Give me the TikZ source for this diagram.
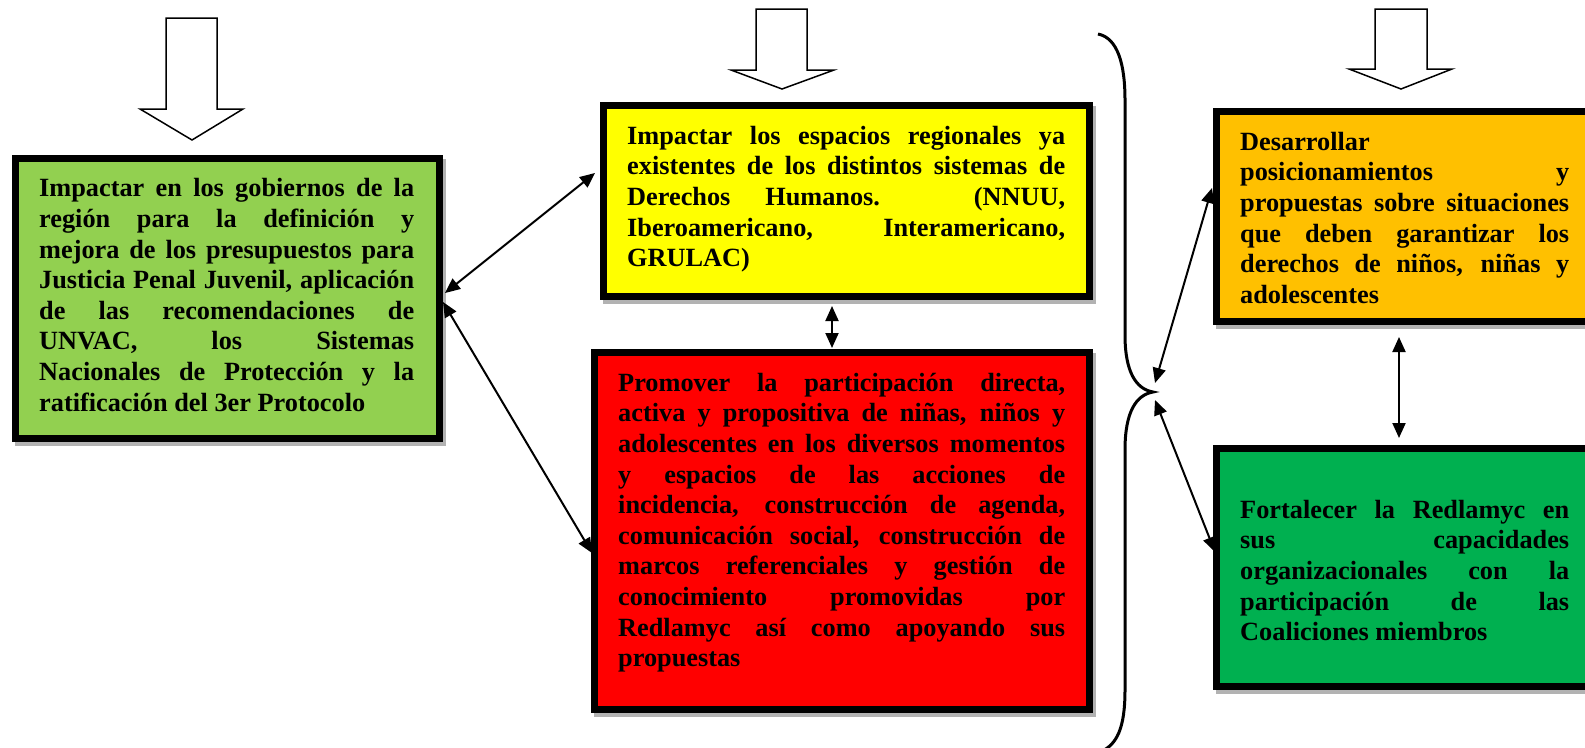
\documentclass[tikz,border=0pt]{standalone}
\usepackage{fontspec}
\setmainfont{Liberation Serif}
\usetikzlibrary{arrows.meta,backgrounds}
\definecolor{cgreenL}{HTML}{92D050}
\definecolor{cyellow}{HTML}{FFFF00}
\definecolor{cred}{HTML}{FF0000}
\definecolor{corange}{HTML}{FFC000}
\definecolor{cgreenR}{HTML}{00B050}
\newdimen\tw
\newcommand\jl[1]{\hbox to\tw{#1}}
\newcommand\lastl[1]{\hbox{#1}}
\begin{document}
\begin{tikzpicture}[x=1pt,y=-1pt,
  box/.style={draw=black,line width=7pt,rectangle,inner sep=0pt},
  txt/.style={anchor=north west,inner sep=0pt,font=\fontsize{26.3}{30.6}\selectfont\bfseries},
  dbl/.style={line width=2pt,{Triangle[length=15pt,width=13pt]}-{Triangle[length=15pt,width=13pt]}},
  hollow/.style={draw=black,fill=white,line width=1.5pt,line join=miter},
  bracestyle/.style={line width=3pt}
]
\useasboundingbox (0,0) rectangle (1585,747);

% hollow down arrows
\draw[hollow] (166,18) -- (217,18) -- (217,109) -- (243,109) -- (192,140) -- (140,109) -- (166,109) -- cycle;
\draw[hollow] (756,9) -- (807,9) -- (807,70) -- (834,70) -- (782,89) -- (731,70) -- (756,70) -- cycle;
\draw[hollow] (1375,9) -- (1427,9) -- (1427,69) -- (1452,69) -- (1401,89) -- (1349,69) -- (1375,69) -- cycle;

% boxes
\node[box,fill=cgreenL,minimum width=424,minimum height=280] (gL) at (227.5,298.5) {};
\node[box,fill=cyellow,minimum width=486,minimum height=191] (yL) at (846.5,201) {};
\node[box,fill=cred,minimum width=495,minimum height=357] (rL) at (842,531) {};
\node[box,fill=corange,minimum width=378,minimum height=210] (oL) at (1405.5,216.5) {};
\node[box,fill=cgreenR,minimum width=378,minimum height=238] (gR) at (1405.5,567.5) {};

\begin{scope}[on background layer]
  \foreach \n in {gL,yL,rL,oL,gR}
    \fill[gray!60] ([shift={(3,4)}]\n.north west) rectangle ([shift={(3,4)}]\n.south east);
\end{scope}

% texts
\node[txt] (tgL) at (39,175.3) {\tw=375pt\vtop{\normalbaselines
  \jl{\strut Impactar en los gobiernos de la}\jl{región para la definición y}\jl{mejora de los presupuestos para}\jl{Justicia Penal Juvenil, aplicación}\jl{de las recomendaciones de}\jl{UNVAC, los Sistemas}\jl{Nacionales de Protección y la}\lastl{ratificación del 3er Protocolo}}};
\node[txt] (tyL) at (627,122.6) {\tw=438pt\vtop{\normalbaselines
  \jl{\strut Impactar los espacios regionales ya}\jl{existentes de los distintos sistemas de}\jl{Derechos Humanos. (NNUU,}\jl{Iberoamericano, Interamericano,}\lastl{GRULAC)}}};
\node[txt] (trL) at (618,369.6) {\tw=447pt\vtop{\normalbaselines
  \jl{\strut Promover la participación directa,}\jl{activa y propositiva de niñas, niños y}\jl{adolescentes en los diversos momentos}\jl{y espacios de las acciones de}\jl{incidencia, construcción de agenda,}\jl{comunicación social, construcción de}\jl{marcos referenciales y gestión de}\jl{conocimiento promovidas por}\jl{Redlamyc así como apoyando sus}\lastl{propuestas}}};
\node[txt] (toL) at (1240,128.6) {\tw=329pt\vtop{\normalbaselines
  \lastl{\strut Desarrollar}\jl{posicionamientos y}\jl{propuestas sobre situaciones}\jl{que deben garantizar los}\jl{derechos de niños, niñas y}\lastl{adolescentes}}};
\node[txt] (tgR) at (1240,496.6) {\tw=329pt\vtop{\normalbaselines
  \jl{\strut Fortalecer la Redlamyc en}\jl{sus capacidades}\jl{organizacionales con la}\jl{participación de las}\lastl{Coaliciones miembros}}};

% brace
\draw[bracestyle] (1098,34) .. controls (1118,38) and (1125,65) .. (1125,100) -- (1125,335) .. controls (1125,372) and (1136,389) .. (1153,392) .. controls (1136,395) and (1125,412) .. (1125,450) -- (1125,690) .. controls (1125,728) and (1117,745) .. (1100,752);
\coordinate (bt) at (1153,392);

% connectors
\draw[dbl] ([shift={(2,-5.5)}]gL.east) -- ([shift={(-5,-28)}]yL.west);
\draw[dbl] ([shift={(0,3.5)}]gL.east) -- ([shift={(1,22)}]rL.west);
\draw[dbl] ([shift={(-14.5,6)}]yL.south) -- ([shift={(-10,-1)}]rL.north);
\draw[dbl] ([shift={(2,-9)}]bt) -- ([shift={(-1,-28.5)}]oL.west);
\draw[dbl] ([shift={(2,8)}]bt) -- ([shift={(2,-15.5)}]gR.west);
\draw[dbl] ([shift={(-6.5,12)}]oL.south) -- ([shift={(-6.5,-7)}]gR.north);
\end{tikzpicture}
\end{document}
